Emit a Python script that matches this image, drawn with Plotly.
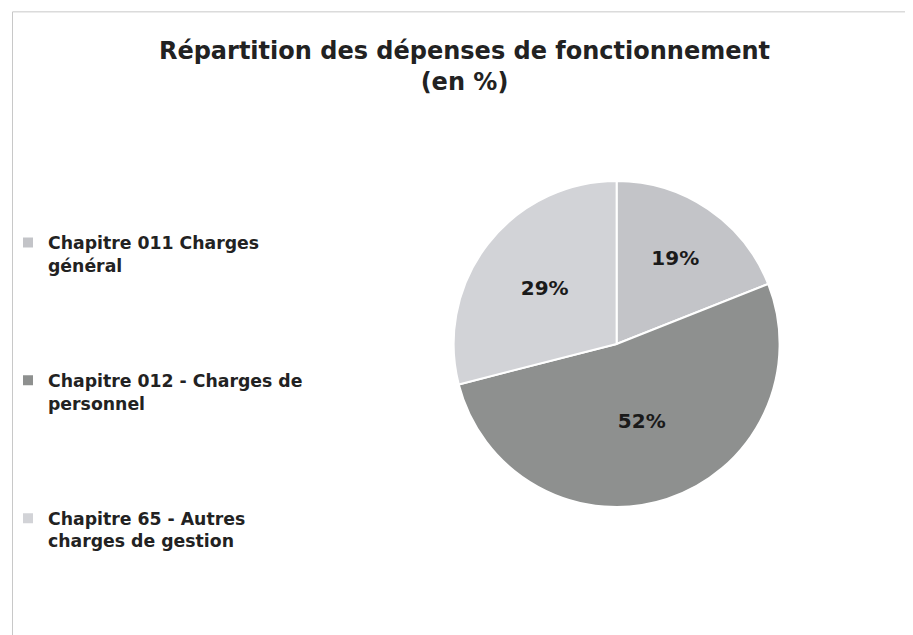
import plotly.graph_objects as go

categories = ["Chapitre 011 Charges<br>général",
              "Chapitre 012 - Charges de<br>personnel",
              "Chapitre 65 - Autres<br>charges de gestion"]
values = [19, 52, 29]
colors = ["#c3c4c8", "#8e908f", "#d2d3d7"]

# bold legend entries, padded (except the last) so they are spread vertically
legend_labels = ["<b>" + c + "</b>" + ("<br> <br> <br> <br>" if i < len(categories) - 1 else "")
                 for i, c in enumerate(categories)]

fig = go.Figure(go.Pie(
    labels=legend_labels,
    values=values,
    sort=False,
    direction="clockwise",
    rotation=0,
    marker=dict(colors=colors, line=dict(color="white", width=2)),
    texttemplate="<b>%{percent:.0%}</b>",
    textposition="inside",
    insidetextorientation="horizontal",
    textfont=dict(family="DejaVu Sans", size=20, color="#1a1a1a"),
    domain=dict(x=[0.484, 0.864], y=[0.205, 0.735]),
    hoverinfo="percent",
))

fig.update_layout(
    width=913, height=635,
    paper_bgcolor="white",
    plot_bgcolor="white",
    margin=dict(l=0, r=10, t=10, b=10),
    title=dict(
        text="<b>Répartition des dépenses de fonctionnement<br>(en %)</b>",
        x=0.5, xanchor="center", y=0.92, yanchor="top",
        font=dict(family="DejaVu Sans", size=24, color="#222222"),
    ),
    showlegend=True,
    legend=dict(
        x=0.0, xanchor="left", y=0.664, yanchor="top",
        valign="top",
        bgcolor="rgba(0,0,0,0)",
        font=dict(family="DejaVu Sans", size=17.3, color="#222222"),
        itemwidth=30,
    ),
    shapes=[dict(type="rect", xref="paper", yref="paper",
                 x0=0.005, y0=-0.008, x1=1.004, y1=1.01,
                 line=dict(color="#c8c8c8", width=1))],
)

fig.write_html("out.html")
